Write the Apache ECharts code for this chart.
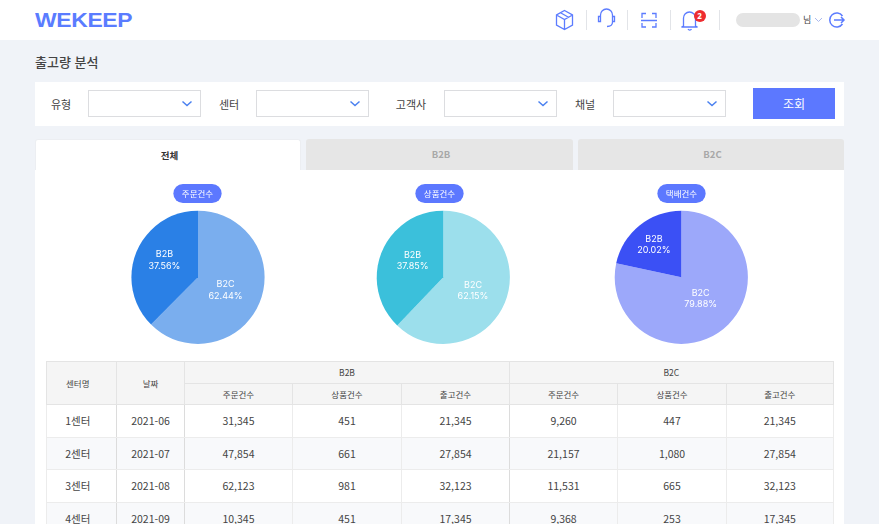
<!DOCTYPE html>
<html lang="ko"><head><meta charset="utf-8">
<script src="https://cdn.jsdelivr.net/npm/echarts@6/dist/echarts.min.js"></script>
<style>
html,body{margin:0;padding:0;width:879px;height:524px;overflow:hidden;background:#f0f3f8;font-family:"Noto Sans CJK KR","Noto Sans",sans-serif;color:#444}
*{box-sizing:border-box}
.abs{position:absolute}
#hdr{left:0;top:0;width:879px;height:40px;background:#fff}
#logo{left:35px;top:6px;font:800 21px/27px "Liberation Sans",sans-serif;color:#5a7cff;transform-origin:0 50%;transform:scaleX(1.09);letter-spacing:-.3px}
.sep{top:10px;width:1px;height:20px;background:#e2e4e8}
#title{left:35px;top:51px;font-size:13px;line-height:22px;font-weight:500;color:#444}
#bar{left:35px;top:82px;width:809px;height:44px;background:#fff}
.sel{top:90px;width:113px;height:27px;background:#fff;border:1px solid #dcdde0}
.lab{top:94px;font-size:11px;line-height:20px;width:50px;text-align:center;color:#444}
#btn{left:753px;top:88px;width:82px;height:31px;background:#5c78ff;color:#fff;font-size:12px;line-height:31px;text-align:center}
.tab{top:139px;height:32px;border-radius:3px 3px 0 0;font-size:9.500px;font-weight:700;line-height:30px;padding-left:3px;text-align:center;background:#e6e6e6;color:#a8a8a8}
#panel{left:35px;top:170px;width:809px;height:354px;background:#fff}
#tbl{left:45.500px;top:361px;width:787px;border-collapse:collapse;table-layout:fixed;font-size:10.500px;color:#444}
#tbl th{background:#f5f5f5;font-weight:400;font-size:8.500px;height:21.500px;padding:0;border:1px solid #e4e4e4}
#tbl th.first{padding-right:7px}
#tbl td{height:32.600px;padding:0;text-align:center;border:1px solid #ececec;color:#444}
#tbl td.c1{padding-right:7px}
#tbl td.c1,#tbl td.c2,#tbl td.c5{border-right:1px solid #dcdcdc}
#tbl tbody tr:nth-child(even) td{background:#f8f9fb}
#chart{left:0;top:0;width:879px;height:524px}
</style></head><body>
<div id="hdr" class="abs"></div>
<div id="logo" class="abs">WEKEEP</div>
<svg class="abs" style="left:0;top:0" width="879" height="40" fill="none" stroke="#5c7cff" stroke-width="1.300">
  <path d="M564.500 10.500l8 4.500v10l-8 4.500-8-4.500v-10zM556.500 15l8 4.500 8-4.500M564.500 19.500v10M560.500 12.800l8 4.500"/>
  <path d="M600.500 21v-6a6 6 0 0 1 12 0v6M598.500 16.500v5h2v-5zM612.500 16.500v5h2v-5zM612.500 22c0 3.500-2 4.500-5.500 4.500"/>
  <path d="M642 18v-4.500h4M656 18v-4.500h-4M642 23v4h4M656 23v4h-4M641 20.500h16"/>
  <path d="M683.500 26v-8a6 6 0 0 1 12 0v8l2 1h-16zM688 29a2 2 0 0 0 3.500 0"/>
  <path d="M815 18l3.500 3.500 3.500-3.500" stroke="#aab8ee" stroke-width="1"/>
  <path d="M842.500 16a7 7 0 1 0 0 8M834 20h10M841 17l3 3-3 3" stroke-width="1.500"/>
</svg>
<div class="sep abs" style="left:586px"></div><div class="sep abs" style="left:627px"></div><div class="sep abs" style="left:670px"></div><div class="sep abs" style="left:719px"></div>
<div class="abs" style="left:693.500px;top:10px;width:12px;height:12px;border-radius:6px;background:#ee2c30;color:#fff;font:700 8px/12px 'Noto Sans';text-align:center">2</div>
<div class="abs" style="left:736px;top:13px;width:64px;height:14px;border-radius:7px;background:#e4e4e4"></div>
<div class="abs" style="left:803px;top:13px;font-size:9px;line-height:14px;color:#444">님</div>
<div id="title" class="abs">출고량 분석</div>
<div id="bar" class="abs"></div>
<div id="filters"></div>
<div id="btn" class="abs">조회</div>
<div id="tabs"></div>
<div id="panel" class="abs"></div>
<table id="tbl" class="abs"></table>
<div id="chart" class="abs"></div>
<script>
var pieTitles = ['주문건수', '상품건수', '택배건수'];
var sliceNames = ['B2C', 'B2B'];
var b2cSlices = [62.44, 62.15, 78.4];
var b2bSlices = [37.56, 37.85, 21.6];
var b2cLabels = ['62.44%', '62.15%', '79.88%'];
var b2bLabels = ['37.56%', '37.85%', '20.02%'];
var b2cColors = ['#7aaeee', '#9cdfec', '#9ca8fa'];
var b2bColors = ['#2a80e6', '#3bc0db', '#3b50f5'];
var filterLabels = ['유형', '센터', '고객사', '채널'];
var tabNames = ['전체', 'B2B', 'B2C'];
var tableGroups = ['B2B', 'B2C'];
var tableMetrics = ['주문건수', '상품건수', '출고건수'];
var centers = ['1센터', '2센터', '3센터', '4센터'];
var months = ['2021-06', '2021-07', '2021-08', '2021-09'];
var b2bOrders = ['31,345', '47,854', '62,123', '10,345'];
var b2bItems = ['451', '661', '981', '451'];
var b2bOut = ['21,345', '27,854', '32,123', '17,345'];
var b2cOrders = ['9,260', '21,157', '11,531', '9,368'];
var b2cItems = ['447', '1,080', '665', '253'];
var b2cOut = ['21,345', '27,854', '32,123', '17,345'];

var selX = [88, 256, 444, 613], labX = [36, 204, 386, 560];
var chevron = '<svg class="abs" style="left:{x}px;top:100px" width="12" height="8" fill="none" stroke="#4a80f0" stroke-width="1.500"><path d="M1.500 1.500l4.500 4 4.500-4"/></svg>';
document.getElementById('filters').innerHTML = filterLabels.map(function (t, i) {
  return '<div class="lab abs" style="left:' + labX[i] + 'px">' + t + '</div><div class="sel abs" style="left:' + selX[i] + 'px"></div>' + chevron.replace('{x}', selX[i] + 93);
}).join('');
var tabX = [35, 306, 578], tabW = [266, 267, 266];
document.getElementById('tabs').innerHTML = tabNames.map(function (t, i) {
  var s = i === 0 ? 'background:#fff;color:#333;border:1px solid #eceef2;border-bottom:none;' : '';
  return '<div class="tab abs" style="left:' + tabX[i] + 'px;width:' + tabW[i] + 'px;' + s + '">' + t + '</div>';
}).join('');

var colW = [70.5, 68, 108, 109, 108, 108, 109, 106.5];
var html = '<colgroup>' + colW.map(function (w) { return '<col style="width:' + w + 'px">'; }).join('') + '</colgroup><thead><tr><th rowspan="2" class="first">센터명</th><th rowspan="2">날짜</th>' +
  tableGroups.map(function (g) { return '<th colspan="3">' + g + '</th>'; }).join('') + '</tr><tr>' +
  tableGroups.map(function () { return tableMetrics.map(function (m) { return '<th>' + m + '</th>'; }).join(''); }).join('') + '</tr></thead><tbody>';
centers.forEach(function (c, i) {
  var cells = [c, months[i], b2bOrders[i], b2bItems[i], b2bOut[i], b2cOrders[i], b2cItems[i], b2cOut[i]];
  html += '<tr>' + cells.map(function (v, j) { return '<td class="c' + (j + 1) + '">' + v + '</td>'; }).join('') + '</tr>';
});
document.getElementById('tbl').innerHTML = html + '</tbody>';

var pieX = [198, 443.3, 681.3];
var pillLeft = [189, 431, 673];
var b2cNudge = [[-6, -1], [-4, 0], [-3.4, -7]];
var b2bNudge = [[0, -3], [3, -3], [-4.6, -4]];
var chart = echarts.init(document.getElementById('chart'), null, { renderer: 'canvas' });
chart.setOption({
  animation: false,
  title: pieTitles.map(function (t, i) {
    return {
      text: t, left: pillLeft[i], top: 184, textAlign: 'center',
      backgroundColor: '#5c78ff', borderRadius: 10, padding: [4, 8.5],
      textStyle: { color: '#fff', fontSize: 8.5, fontWeight: 400, lineHeight: 11, fontFamily: '"Noto Sans CJK KR"' }
    };
  }),
  series: pieTitles.map(function (t, i) {
    return {
      type: 'pie', name: t, silent: true, startAngle: 90, clockwise: true,
      center: [pieX[i], 277.3], radius: [0, 66.6],
      label: {
        position: 'inside', color: '#fff', fontSize: 9, lineHeight: 11.500, fontFamily: 'Inter, "Noto Sans"',
        formatter: function (p) { return p.name + '\n' + (p.dataIndex === 0 ? b2cLabels : b2bLabels)[p.seriesIndex]; }
      },
      labelLine: { show: false },
      data: [
        { name: sliceNames[0], value: b2cSlices[i], itemStyle: { color: b2cColors[i] }, label: { offset: b2cNudge[i] } },
        { name: sliceNames[1], value: b2bSlices[i], itemStyle: { color: b2bColors[i] }, label: { offset: b2bNudge[i] } }
      ]
    };
  })
});
</script>
</body></html>
